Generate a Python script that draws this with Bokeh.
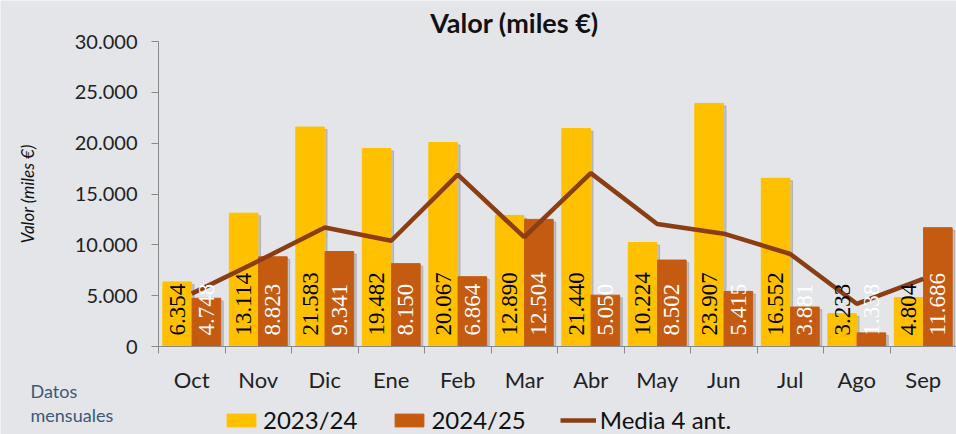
import math
from bokeh.plotting import figure
from bokeh.models import (ColumnDataSource, Range1d, FixedTicker, LabelSet, Label,
                          Legend, LegendItem)
from bokeh.embed import file_html
from bokeh.resources import INLINE

months = ["Oct", "Nov", "Dic", "Ene", "Feb", "Mar", "Abr", "May", "Jun", "Jul", "Ago", "Sep"]
v2324 = [6354, 13114, 21583, 19482, 20067, 12890, 21440, 10224, 23907, 16552, 3233, 4804]
v2425 = [4748, 8823, 9341, 8150, 6864, 12504, 5050, 8502, 5415, 3881, 1338, 11686]
media4 = [5200, 8400, 11700, 10400, 16900, 10750, 17050, 12050, 11100, 9100, 4200, 6650]
y_ticks = [0, 5000, 10000, 15000, 20000, 25000, 30000]
y_tick_labels = ["0", "5.000", "10.000", "15.000", "20.000", "25.000", "30.000"]

FONT = "Lato"
BG = "#E3E5E9"
YEL = "#FFC000"
BRN = "#C55A11"
LINE = "#8B3D14"

W, H = 956, 434
X0PX, X12PX = 158, 956          # pixel positions of x=0 and x=12
Y0PX, Y30PX = 346, 41           # pixel positions of y=0 and y=30000
kx = 12 / (X12PX - X0PX)
ky = 30000 / (Y0PX - Y30PX)

def fmt(v):
    return f"{v:,}".replace(",", ".")

n = len(months)
xc = [i + 0.5 for i in range(n)]
src = ColumnDataSource(dict(
    xa=[x - 0.22 for x in xc], xb=[x + 0.22 for x in xc], xc=xc,
    xas=[x - 0.22 + 0.04 for x in xc], xbs=[x + 0.22 + 0.04 for x in xc],
    a=v2324, b=v2425, m=media4,
    sa=[max(v - 250, 0) for v in v2324], sb=[max(v - 250, 0) for v in v2425],
    la=[fmt(v) for v in v2324], lb=[fmt(v) for v in v2425],
))

p = figure(width=W, height=H, output_backend="svg", toolbar_location=None,
           x_range=Range1d(-X0PX * kx, 12 + (W - X12PX) * kx),
           y_range=Range1d(-(H - Y0PX) * ky, 30000 + Y30PX * ky),
           min_border=0)
p.background_fill_color = BG
p.border_fill_color = BG
p.outline_line_color = None
p.grid.visible = False

# shadows + bars
p.vbar(x="xas", top="sa", width=0.43, bottom=0, source=src, color="#7a7a7a", alpha=0.35)
ra = p.vbar(x="xa", top="a", width=0.43, bottom=0, source=src, color=YEL)
p.vbar(x="xbs", top="sb", width=0.43, bottom=0, source=src, color="#7a7a7a", alpha=0.35)
rb = p.vbar(x="xb", top="b", width=0.43, bottom=0, source=src, color=BRN)
rl = p.line(x="xc", y="m", source=src, line_color=LINE, line_width=4.5)

p.add_layout(LabelSet(x="xa", y=0, text="la", source=src, angle=math.pi / 2,
                      y_offset=11, text_align="left", text_baseline="middle",
                      text_font=FONT, text_font_size="23px", text_color="#000000"))
p.add_layout(LabelSet(x="xb", y=0, text="lb", source=src, angle=math.pi / 2,
                      y_offset=11, text_align="left", text_baseline="middle",
                      text_font=FONT, text_font_size="23px", text_color="#FFFFFF"))

# y axis
ya = p.yaxis[0]
ya.fixed_location = 0
ya.bounds = (0, 30000)
ya.ticker = FixedTicker(ticks=y_ticks, minor_ticks=[])
ya.major_label_overrides = {t: l for t, l in zip(y_ticks, y_tick_labels)}
ya.major_label_text_font = FONT
ya.major_label_text_font_size = "20px"
ya.major_label_text_color = "#222222"
ya.major_tick_out = 7
ya.major_tick_in = 0
ya.minor_tick_out = 0
ya.minor_tick_in = 0
ya.axis_line_color = "#8a8a8a"
ya.major_tick_line_color = "#8a8a8a"
ya.major_label_standoff = 14
ya.axis_label = "Valor (miles €)"
ya.axis_label_text_font = FONT
ya.axis_label_text_font_size = "17px"
ya.axis_label_text_font_style = "italic"
ya.axis_label_text_color = "#111111"
ya.axis_label_standoff = 34

# x axis: labels at centers, ticks at boundaries (minor)
xa = p.xaxis[0]
xa.fixed_location = 0
xa.bounds = (0, 12)
xa.ticker = FixedTicker(ticks=xc, minor_ticks=list(range(n + 1)))
xa.major_label_overrides = {x: m for x, m in zip(xc, months)}
xa.major_tick_out = 0
xa.major_tick_in = 0
xa.minor_tick_out = 7
xa.minor_tick_in = 0
xa.minor_tick_line_color = "#8a8a8a"
xa.axis_line_color = "#8a8a8a"
xa.major_label_text_font = FONT
xa.major_label_text_font_size = "22px"
xa.major_label_text_color = "#222222"
xa.major_label_standoff = 12

# title
p.add_layout(Label(x=(514 - X0PX) * kx, y=(Y0PX - 22) * ky, text="Valor (miles €)",
                   text_font=FONT, text_font_size="27px", text_font_style="bold",
                   text_color="#111111", text_align="center", text_baseline="middle"))

# "Datos mensuales"
for txt, ypx in [("Datos", 390), ("mensuales", 414)]:
    p.add_layout(Label(x=(30 - X0PX) * kx, y=(Y0PX - ypx) * ky, text=txt,
                       text_font=FONT, text_font_size="18px",
                       text_color="#3B5878", text_baseline="middle", text_align="left"))

legend = Legend(items=[LegendItem(label="2023/24", renderers=[ra]),
                       LegendItem(label="2024/25", renderers=[rb]),
                       LegendItem(label="Media 4 ant.", renderers=[rl])],
                orientation="horizontal", location=(223, 0),
                label_text_font=FONT, label_text_font_size="24px", label_text_color="#111111",
                glyph_width=36, glyph_height=16, label_standoff=4, spacing=34,
                padding=0, margin=0, border_line_color=None, background_fill_alpha=0)
p.add_layout(legend, "center")

html = file_html(p, INLINE)
html = html.replace("<body>", f'<body style="background:{BG}">', 1)
open("out.html", "w").write(html)
